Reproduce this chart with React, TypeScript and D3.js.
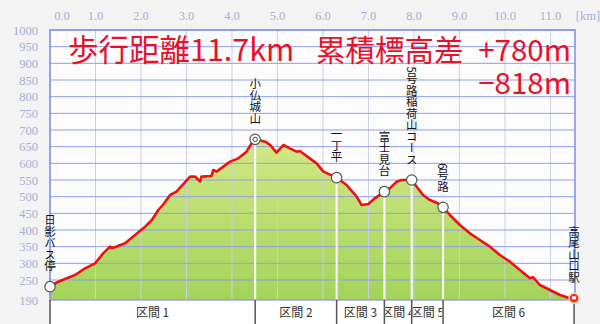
import React from "react";
import * as d3 from "d3";

const distanceKm = [0.0, 0.18, 0.55, 0.77, 0.99, 1.17, 1.32, 1.38, 1.65, 1.87, 2.09, 2.24, 2.38, 2.48, 2.64, 2.78, 3.08, 3.19, 3.30, 3.33, 3.55, 3.59, 3.66, 3.96, 4.14, 4.32, 4.43, 4.51, 4.73, 4.84, 4.98, 5.13, 5.27, 5.42, 5.49, 5.71, 5.86, 6.01, 6.30, 6.52, 6.74, 6.85, 7.00, 7.14, 7.35, 7.47, 7.62, 7.73, 7.95, 8.06, 8.20, 8.35, 8.50, 8.64, 8.79, 9.01, 9.23, 9.45, 9.67, 9.89, 10.11, 10.33, 10.55, 10.62, 10.77, 10.99, 11.21, 11.43, 11.52];
const elevationM = [230, 245, 265, 285, 300, 330, 350, 346, 360, 385, 410, 430, 460, 475, 505, 515, 560, 560, 545, 560, 562, 580, 575, 605, 615, 635, 660, 672, 665, 655, 632, 655, 645, 635, 637, 615, 600, 575, 557, 535, 500, 475, 478, 495, 515, 525, 545, 550, 550, 530, 505, 490, 482, 468, 445, 415, 390, 370, 350, 325, 305, 280, 255, 258, 235, 220, 205, 195, 195];

const waypointNames = ["日影バス停", "小仏城山", "一丁平", "富士見台", "5号路稲荷山コース", "6号路", "高尾山口駅"];
const waypointKm = [0.0, 4.51, 6.30, 7.35, 7.95, 8.64, 11.52];
const waypointElev = [230, 672, 557, 515, 550, 468, 195];

const sectionLabels = ["区間 1", "区間 2", "区間 3", "区間 4", "区間 5", "区間 6"];

const yTicks = [1000, 950, 900, 850, 800, 750, 700, 650, 600, 550, 500, 450, 400, 350, 300, 250, 190];
const xTicks = [0, 1, 2, 3, 4, 5, 6, 7, 8, 9, 10, 11];

const titleDistance = "歩行距離11.7km";
const titleGainLabel = "累積標高差";
const titleGain = "+780m";
const titleLoss = "−818m";

const W = 600, H = 324;
const L = 50, R = 575, T = 30, B = 300;

export default function App() {
  const x = d3.scaleLinear().domain([0, 11.54]).range([L, R]);
  const y = d3.scaleLinear().domain([190, 1000]).range([B, T]);
  const pts = distanceKm.map((d, i) => [d, elevationM[i]] as [number, number]);
  const area = d3.area<[number, number]>().x(d => x(d[0])).y0(B).y1(d => y(d[1]))(pts) || "";
  const line = d3.line<[number, number]>().x(d => x(d[0])).y(d => y(d[1]))(pts) || "";
  const bounds = [...waypointKm];
  const labelFont = "'Noto Sans CJK JP', sans-serif";

  return (
    <div style={{ position: "fixed", left: 0, top: 0, width: W, height: H }}>
      <svg width={W} height={H} style={{ display: "block" }}>
        <defs>
          <linearGradient id="gfill" x1="0" y1="0" x2="0" y2="1">
            <stop offset="0" stopColor="#d2e887" />
            <stop offset="1" stopColor="#a3d35a" />
          </linearGradient>
          {sectionLabels.map((s, i) => (
            <clipPath id={`sc${i}`} key={i}>
              <rect x={x(bounds[i]) + 1} y={B} width={x(bounds[i + 1]) - x(bounds[i]) - 2} height={H - B} />
            </clipPath>
          ))}
        </defs>
        <rect x={0} y={0} width={W} height={H} fill="#f3f3f3" />
        <rect x={L} y={T} width={R - L} height={B - T} fill="#fcfcfd" />
        <path d={area} fill="url(#gfill)" />
        {xTicks.map(t => (
          <line key={"vx" + t} x1={x(t)} x2={x(t)} y1={T} y2={B} stroke="#c9cfe6" strokeWidth={1} />
        ))}
        {yTicks.map(t => (
          <line key={"hy" + t} x1={L} x2={R} y1={y(t)} y2={y(t)} stroke="#8e9ee6" strokeWidth={1} />
        ))}
        <rect x={L} y={T} width={R - L} height={B - T} fill="none" stroke="#8090e0" strokeWidth={1.5} />
        {waypointKm.slice(1, 6).map((k, i) => (
          <line key={"wl" + i} x1={x(k)} x2={x(k)} y1={y(waypointElev[i + 1])} y2={B} stroke="#ffffff" strokeWidth={2} />
        ))}
        <path d={line} fill="none" stroke="#ee1111" strokeWidth={2.6} strokeLinejoin="round" />
        <rect x={L} y={B} width={x(waypointKm[6]) - L} height={H - B} fill="#ffffff" />
        <line x1={L} x2={R} y1={B} y2={B} stroke="#9aa6dc" strokeWidth={1.5} />
        {bounds.map((k, i) => (
          <line key={"sb" + i} x1={x(k)} x2={x(k)} y1={B} y2={H} stroke="#555" strokeWidth={1.5} />
        ))}
        {sectionLabels.map((s, i) => (
          <text key={"sl" + i} clipPath={`url(#sc${i})`} x={(x(bounds[i]) + x(bounds[i + 1])) / 2} y={317}
            textAnchor="middle" fontSize={12} fill="#333" fontFamily={labelFont}>{s}</text>
        ))}
        {waypointKm.map((k, i) => {
          const cx = x(k), cy = y(waypointElev[i]);
          if (i === 6) {
            return (
              <g key={"m" + i}>
                <circle cx={cx} cy={cy} r={5} fill="#e83030" stroke="#f4d0a0" strokeWidth={1.5} />
                <rect x={cx - 2} y={cy - 2} width={4} height={3} fill="#fff" />
              </g>
            );
          }
          return (
            <g key={"m" + i}>
              <circle cx={cx} cy={cy} r={5.2} fill="#fff" stroke="#555" strokeWidth={1.2} />
              {i === 1 && <circle cx={cx} cy={cy} r={2.2} fill="none" stroke="#444" strokeWidth={1} />}
            </g>
          );
        })}
        {waypointKm.map((k, i) => (
          <text key={"wt" + i} x={x(k)} y={y(waypointElev[i]) - 15} textAnchor="end" fontSize={11.5}
            fill="#111" fontFamily={labelFont} style={{ writingMode: "vertical-rl" }}>{waypointNames[i]}</text>
        ))}
        {yTicks.map(t => (
          <text key={"yl" + t} x={38} y={y(t) + 4.5} textAnchor="end" fontSize={12.5} fill="#a6b0d6"
            fontFamily="'Liberation Serif', serif">{t}</text>
        ))}
        {xTicks.map(t => (
          <text key={"xl" + t} x={t === 0 ? x(t) + 12 : x(t)} y={20} textAnchor="middle" fontSize={12.5} fill="#a6b0d6"
            fontFamily="'Liberation Serif', serif">{t.toFixed(1)}</text>
        ))}
        <text x={588} y={20} textAnchor="middle" fontSize={12.5} fill="#a6b0d6" fontFamily="'Liberation Serif', serif">[km]</text>
        <text x={68} y={61} fontSize={30.5} fill="#e8102a" fontFamily={labelFont}>{titleDistance}</text>
        <text x={316} y={61} fontSize={29.5} fill="#e8102a" fontFamily={labelFont}>{titleGainLabel}</text>
        <text x={571} y={61} textAnchor="end" fontSize={29.5} fill="#e8102a" fontFamily={labelFont}>{titleGain}</text>
        <text x={571} y={94} textAnchor="end" fontSize={29.5} fill="#e8102a" fontFamily={labelFont}>{titleLoss}</text>
      </svg>
    </div>
  );
}
